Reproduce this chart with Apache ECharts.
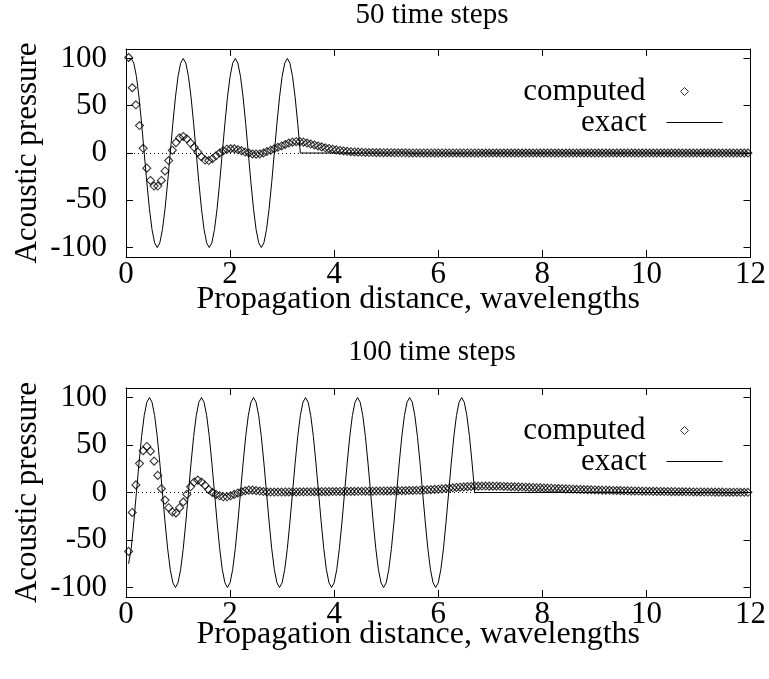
<!DOCTYPE html>
<html><head><meta charset="utf-8">
<script src="https://cdn.jsdelivr.net/npm/echarts@6/dist/echarts.min.js"></script>
<style>html,body{margin:0;padding:0;background:#fff}#c{width:769px;height:679px}</style>
</head><body><div id="c"></div>
<script>
// ---------- data ----------
const plotTitles = ['50 time steps', '100 time steps'];
const xName = 'Propagation distance, wavelengths';
const yName = 'Acoustic pressure';
const xTicks = [0, 2, 4, 6, 8, 10, 12];
const yTicks = [-100, -50, 0, 50, 100];

// computed samples: x = computedStart + k * computedStep
const computedStart = 0.05, computedStep = 0.07;
const computed50 = [
  101, 69, 51, 29, 5, -16, -29, -35, -35, -29,
  -19, -8, 3, 11, 16, 17.5, 15, 10.5, 6, 1,
  -4, -7.5, -8, -6, -3, 0, 2.5, 4, 4.5, 4.5,
  3.5, 2.5, 1, 0, -1, -1.2, -1, 0, 1.5, 3,
  4.5, 6, 7.5, 9, 10.5, 11.5, 12, 12, 11.5, 10.5,
  9.5, 8.5, 7.5, 6.5, 5.5, 4.8, 4, 3.3, 2.7, 2.2,
  1.8, 1.4, 1.1, 0.9, 0.7,
  0.6, 0.5, 0.5, 0.4, 0.4, 0.3, 0.3, 0.3, 0.2, 0.2, 0.2, 0.2,
  0.1, 0.1, 0.1, 0.1, 0.1, 0.1, 0.1, 0.1, 0.1, 0.1,
  0.1, 0.1, 0.1, 0.1, 0.1, 0.1, 0.1, 0.1, 0.1, 0.1,
  0, 0, 0, 0, 0, 0, 0, 0, 0, 0,
  0, 0, 0, 0, 0, 0, 0, 0, 0, 0,
  0, 0, 0, 0, 0, 0, 0, 0, 0, 0,
  0, 0, 0, 0, 0, 0, 0, 0, 0, 0,
  0, 0, 0, 0, 0, 0, 0, 0, 0, 0,
  0, 0, 0, 0, 0, 0, 0, 0, 0, 0,
  0, 0, 0, 0, 0, 0, 0, 0, 0, 0,
  0, 0, 0, 0
];
const computed100 = [
  -62, -21, 8, 30.5, 44, 48.5, 43.5, 33, 18, 4,
  -8, -16, -20.5, -21.5, -16, -10, -2, 6, 11, 13,
  11, 7.5, 3, 0, -2, -3.5, -4.5, -4.5, -3.5, -2,
  -0.5, 0.8, 1.8, 2.5, 2.5, 2, 1.5, 1, 0.6, 0.5,
  0.5, 0.5, 0.5, 0.6, 0.6, 0.6, 0.6, 0.7, 0.7, 0.7,
  0.7, 0.8, 0.8, 0.9, 0.9, 0.9, 1.0, 1.0, 1.1, 1.1,
  1.2, 1.2, 1.2, 1.3, 1.3, 1.4, 1.4, 1.4, 1.5, 1.5,
  1.6, 1.6, 1.7, 1.8, 1.9, 1.9, 2.0, 2.1, 2.2, 2.3,
  2.4, 2.6, 2.8, 3.0, 3.3, 3.5, 3.8, 4.2, 4.5, 4.9,
  5.3, 5.6, 5.9, 6.2, 6.4, 6.6, 6.7, 6.8, 6.8, 6.7,
  6.7, 6.6, 6.5, 6.4, 6.3, 6.1, 6.0, 5.9, 5.7, 5.6,
  5.4, 5.3, 5.1, 5.0, 4.8, 4.6, 4.5, 4.3, 4.2, 4.0,
  3.8, 3.7, 3.5, 3.4, 3.2, 3.1, 3.0, 2.8, 2.7, 2.6,
  2.5, 2.4, 2.3, 2.2, 2.1, 2.0, 1.9, 1.8, 1.7, 1.6,
  1.5, 1.4, 1.4, 1.3, 1.2, 1.2, 1.1, 1.0, 1.0, 0.9,
  0.9, 0.8, 0.8, 0.7, 0.7, 0.6, 0.6, 0.6, 0.5, 0.5,
  0.5, 0.4, 0.4, 0.4, 0.3, 0.3, 0.3, 0.3, 0.2, 0.2,
  0.2
];

// exact samples: x = exactStart + k * exactStep, up to the wave front; then flat zero to the end
const exactStart = 0.05, exactStep = 0.05;
const exact50 = [
  97, 100,
  95, 81, 59, 31, 0, -31, -59, -81, -95, -100, -95, -81, -59, -31, 0, 31, 59, 81, 95, 100,
  95, 81, 59, 31, 0, -31, -59, -81, -95, -100, -95, -81, -59, -31, 0, 31, 59, 81, 95, 100,
  95, 81, 59, 31, 0, -31, -59, -81, -95, -100, -95, -81, -59, -31, 0, 31, 59, 81, 95, 100,
  95, 81, 59, 31, 0
];
const exact100 = [
  -75, -59, -31, 0, 31, 59, 81, 95, 100,
  95, 81, 59, 31, 0, -31, -59, -81, -95, -100, -95, -81, -59, -31, 0, 31, 59, 81, 95, 100,
  95, 81, 59, 31, 0, -31, -59, -81, -95, -100, -95, -81, -59, -31, 0, 31, 59, 81, 95, 100,
  95, 81, 59, 31, 0, -31, -59, -81, -95, -100, -95, -81, -59, -31, 0, 31, 59, 81, 95, 100,
  95, 81, 59, 31, 0, -31, -59, -81, -95, -100, -95, -81, -59, -31, 0, 31, 59, 81, 95, 100,
  95, 81, 59, 31, 0, -31, -59, -81, -95, -100, -95, -81, -59, -31, 0, 31, 59, 81, 95, 100,
  95, 81, 59, 31, 0, -31, -59, -81, -95, -100, -95, -81, -59, -31, 0, 31, 59, 81, 95, 100,
  95, 81, 59, 31, 0
];
const exactEndX = 12, exactEndY = 0;

// ---------- build ----------
const FONT = 'Liberation Serif';
function pairs(start, step, vals) { return vals.map((v, k) => [+(start + k * step).toFixed(4), v]); }
function exactPairs(vals) { const p = pairs(exactStart, exactStep, vals); p.push([exactEndX, exactEndY]); return p; }

const grids = [
  { left: 126, right: 17, top: 49, height: 208 },
  { left: 126, right: 17, top: 388, height: 209 }
];
const txt = { fontFamily: FONT, fontSize: 31, color: '#000' };
const axLine = { show: true, onZero: false, lineStyle: { color: '#000', width: 1 } };
const tick = { inside: true, length: 7, lineStyle: { color: '#000' } };
const xAxes = [], yAxes = [];
const nameGaps = [27, 22];
grids.forEach((g, i) => {
  xAxes.push({ gridIndex: i, type: 'value', min: 0, max: 12, interval: 2, position: 'bottom',
    axisLine: axLine, axisTick: tick,
    axisLabel: { ...txt, margin: 2 }, splitLine: { show: false },
    name: xName, nameLocation: 'middle', nameGap: nameGaps[i], nameMoveOverlap: false,
    nameTextStyle: { ...txt, fontSize: 32, padding: [0, 40, 0, 0] } });
  xAxes.push({ gridIndex: i, type: 'value', min: 0, max: 12, interval: 2, position: 'top',
    axisLine: axLine, axisTick: tick,
    axisLabel: { show: false }, splitLine: { show: false } });
  yAxes.push({ gridIndex: i, type: 'value', min: -110, max: 110, position: 'left',
    axisLine: axLine, axisTick: { ...tick, customValues: yTicks },
    axisLabel: { ...txt, margin: 19, customValues: yTicks }, splitLine: { show: false },
    name: yName, nameLocation: 'middle', nameGap: 83, nameMoveOverlap: false, nameTextStyle: txt });
  yAxes.push({ gridIndex: i, type: 'value', min: -110, max: 110, position: 'right',
    axisLine: axLine, axisTick: { ...tick, customValues: yTicks },
    axisLabel: { show: false }, splitLine: { show: false } });
});

const comp = [computed50, computed100];
const exact = [exact50, exact100];
const series = [];
[0, 1].forEach(i => {
  series.push({ type: 'scatter', name: 'computed', xAxisIndex: 2 * i, yAxisIndex: 2 * i,
    data: pairs(computedStart, computedStep, comp[i]), symbol: 'diamond', symbolSize: 8,
    itemStyle: { color: 'rgba(0,0,0,0)', borderColor: '#000', borderWidth: 1.1 }, z: 2, silent: true });
  series.push({ type: 'line', name: 'exact', xAxisIndex: 2 * i, yAxisIndex: 2 * i,
    data: exactPairs(exact[i]), symbol: 'none', showSymbol: false,
    lineStyle: { color: '#000', width: 1 }, itemStyle: { color: '#000' }, z: 3, silent: true,
    markLine: { silent: true, symbol: 'none', label: { show: false },
      lineStyle: { color: '#000', width: 1, type: [1, 3] }, data: [{ yAxis: 0 }] } });
});

const legendTops = [[76, 107], [415, 446]];
const legends = [];
legendTops.forEach(t => {
  legends.push({ data: [{ name: 'computed', icon: 'diamond', itemStyle: { color: 'rgba(0,0,0,0)', borderColor: '#000', borderWidth: 1 } }],
    right: 80, top: t[0], padding: 0, itemWidth: 8, itemHeight: 8, align: 'right', selectedMode: false,
    textStyle: { ...txt, padding: [0, 30, 0, 0] } });
  legends.push({ data: [{ name: 'exact', itemStyle: { opacity: 0 } }], right: 46, top: t[1], padding: 0,
    itemWidth: 56, itemHeight: 14, align: 'right', selectedMode: false,
    lineStyle: { color: '#000', width: 1, opacity: 1 },
    textStyle: { ...txt, padding: [0, 15, 0, 0] } });
});

const chart = echarts.init(document.getElementById('c'), null, { renderer: 'canvas' });
chart.setOption({
  animation: false,
  backgroundColor: '#fff',
  title: [
    { text: plotTitles[0], left: 432, top: 1, textAlign: 'center', padding: 0, textStyle: { ...txt, fontSize: 29, fontWeight: 'normal' } },
    { text: plotTitles[1], left: 432, top: 338, textAlign: 'center', padding: 0, textStyle: { ...txt, fontSize: 29, fontWeight: 'normal' } }
  ],
  legend: legends,
  grid: grids,
  xAxis: xAxes,
  yAxis: yAxes,
  series: series
});
</script></body></html>
